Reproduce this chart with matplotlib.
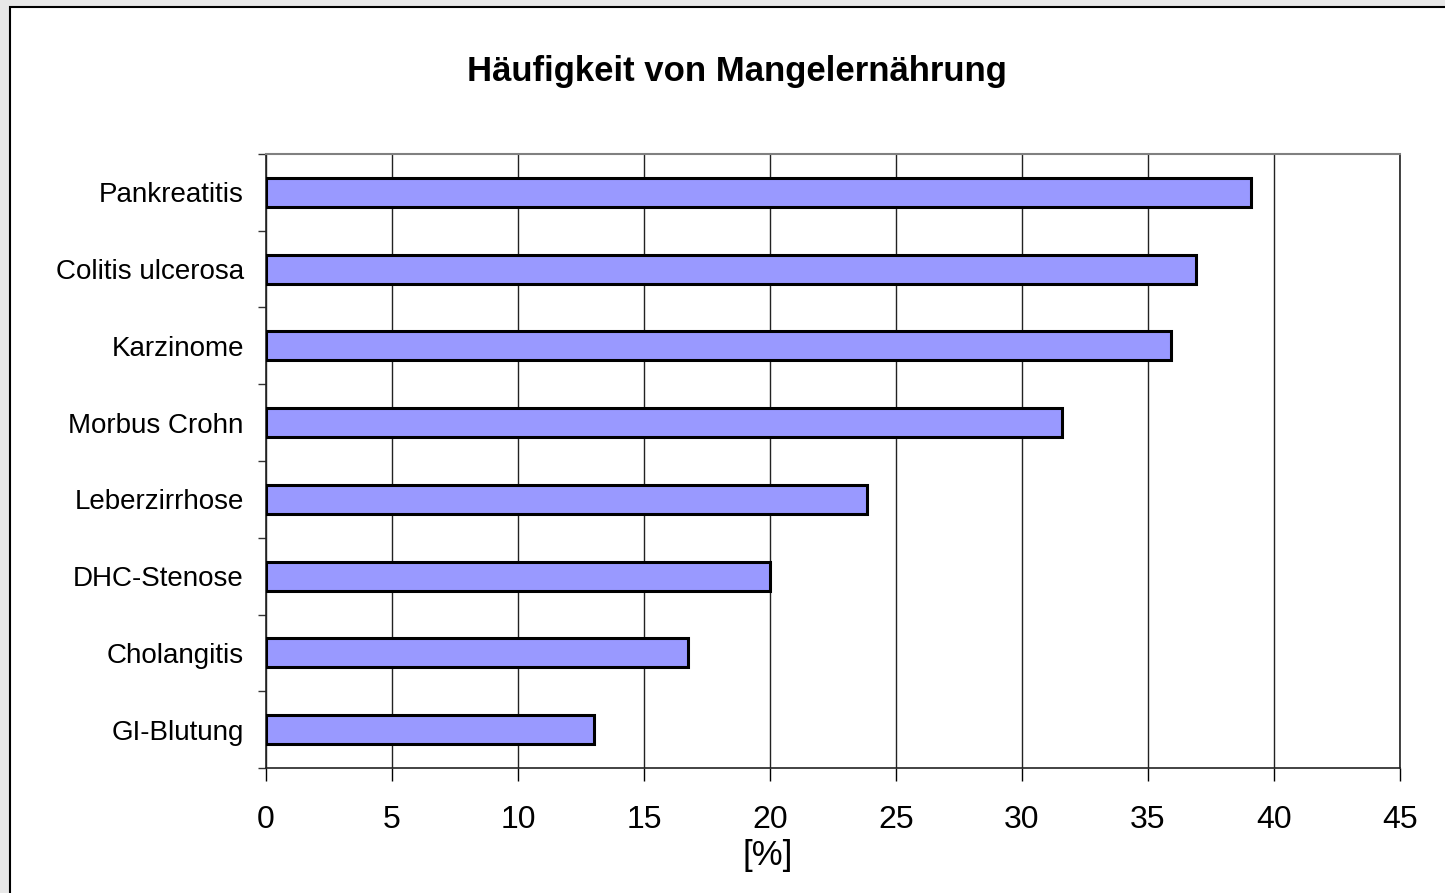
import matplotlib.pyplot as plt
from matplotlib import font_manager
from matplotlib.patches import Rectangle
import numpy as np

plt.rcParams['font.family'] = ['Liberation Sans', 'DejaVu Sans']

categories = ['Pankreatitis', 'Colitis ulcerosa', 'Karzinome', 'Morbus Crohn',
              'Leberzirrhose', 'DHC-Stenose', 'Cholangitis', 'GI-Blutung']
values = [39.1, 36.9, 35.9, 31.6, 23.85, 20.0, 16.75, 13.0]
xticks = [0, 5, 10, 15, 20, 25, 30, 35, 40, 45]

# narrow face for the category labels if it is there
names = {f.name for f in font_manager.fontManager.ttflist}
if 'Liberation Sans Narrow' in names:
    lab_family, lab_size = 'Liberation Sans Narrow', 24
else:
    lab_family, lab_size = 'Liberation Sans', 20

W, H = 1445, 893
fig = plt.figure(figsize=(W / 100, H / 100), dpi=100, facecolor='#e8e8e8')

# white panel with black frame, behind the axes
fig.patches.append(Rectangle((10 / W, -0.05), 1.1, (H - 7) / H + 0.05,
                             transform=fig.transFigure, facecolor='white',
                             edgecolor='black', linewidth=1.5, zorder=-5))

ax = fig.add_axes([266 / W, 1 - 768 / H, (1400 - 266) / W, (768 - 154) / H])
ax.set_zorder(2)
ax.set_facecolor('white')

y = np.arange(len(categories))
ax.barh(y, values, height=0.38, color='#9999ff', edgecolor='black',
        linewidth=2.2, zorder=3)

ax.set_ylim(len(categories) - 0.5, -0.5)
ax.set_xlim(0, 45)
ax.set_xticks(xticks)
ax.set_xticklabels([str(t) for t in xticks], fontsize=23)
ax.tick_params(axis='x', length=9, width=1, pad=18, direction='out')

ax.set_yticks(y)
ax.set_yticklabels(categories, fontsize=lab_size, family=lab_family)
ax.tick_params(axis='y', which='major', length=0, pad=16)
ax.set_yticks(np.arange(-0.5, len(categories) + 0.5, 1), minor=True)
ax.tick_params(axis='y', which='minor', length=6, width=1, color='#333333')

ax.grid(axis='x', color='#222222', linewidth=1, zorder=1)
ax.spines['top'].set_color('#808080')
ax.spines['top'].set_linewidth(1.5)
for s in ['left', 'bottom', 'right']:
    ax.spines[s].set_color('#222222')
    ax.spines[s].set_linewidth(1.2)

fig.text(737 / W, 1 - 72 / H, 'Häufigkeit von Mangelernährung', fontsize=25,
         fontweight='bold', ha='center', va='center')
fig.text(768 / W, 1 - 856 / H, '[%]', fontsize=25, ha='center', va='center')

fig.savefig('out.png', dpi=100, facecolor=fig.get_facecolor())
